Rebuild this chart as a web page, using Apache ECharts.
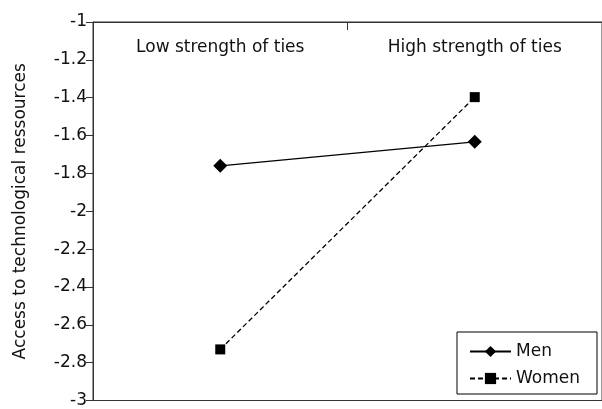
<!DOCTYPE html>
<html>
<head>
<meta charset="utf-8">
<script src="https://cdn.jsdelivr.net/npm/echarts@6/dist/echarts.min.js"></script>
<style>
html,body{margin:0;padding:0;background:#fff;}
#chart{width:602px;height:409px;}
</style>
</head>
<body>
<div id="chart"></div>
<script>
const categories = ["Low strength of ties", "High strength of ties"];
const menValues = [-1.76, -1.633];
const womenValues = [-2.73, -1.397];
const seriesNames = ["Men", "Women"];
const yAxisTitle = "Access to technological ressources";

const FONT = "DejaVu Sans";
const FS = 17;
const chart = echarts.init(document.getElementById('chart'), null, {renderer: 'canvas'});
chart.setOption({
  animation: false,
  backgroundColor: '#fff',
  textStyle: {fontFamily: FONT},
  grid: {left: 93, top: 22, width: 515, height: 383, show: true, borderColor: '#333', borderWidth: 1, backgroundColor: 'transparent'},
  legend: {
    orient: 'vertical',
    left: 457, top: 332,
    padding: [11, 17, 7, 12],
    itemWidth: 41, itemHeight: 14, itemGap: 10,
    borderColor: '#000', borderWidth: 1,
    backgroundColor: '#fff',
    textStyle: {fontFamily: FONT, fontSize: FS, color: '#111'},
    data: seriesNames
  },
  xAxis: {
    type: 'category',
    position: 'top',
    data: categories,
    boundaryGap: true,
    axisLine: {show: true, lineStyle: {color: '#333', width: 1}},
    axisTick: {show: true, inside: true, length: 8, lineStyle: {color: '#333'}},
    axisLabel: {inside: true, margin: 17, fontFamily: FONT, fontSize: FS, color: '#111'},
    splitLine: {show: false}
  },
  yAxis: {
    type: 'value',
    min: -3, max: -1, interval: 0.2,
    name: yAxisTitle,
    nameLocation: 'middle',
    nameGap: 64,
    nameRotate: 90,
    nameTextStyle: {fontFamily: FONT, fontSize: FS, color: '#111'},
    axisLine: {show: true, lineStyle: {color: '#333', width: 1}},
    axisTick: {show: true, inside: false, length: 7, lineStyle: {color: '#333'}},
    axisLabel: {margin: 6, fontFamily: FONT, fontSize: FS, color: '#111',
      formatter: v => String(Math.round(v * 10) / 10)},
    splitLine: {show: false}
  },
  series: [
    {
      name: seriesNames[0], type: 'line', data: menValues,
      symbol: 'diamond', symbolSize: [14, 14],
      itemStyle: {color: '#000'},
      lineStyle: {color: '#000', width: 1.3, type: 'solid'}
    },
    {
      name: seriesNames[1], type: 'line', data: womenValues,
      symbol: 'rect', symbolSize: 10,
      itemStyle: {color: '#000'},
      lineStyle: {color: '#000', width: 1.3, type: [5, 3]}
    }
  ]
});
</script>
</body>
</html>
